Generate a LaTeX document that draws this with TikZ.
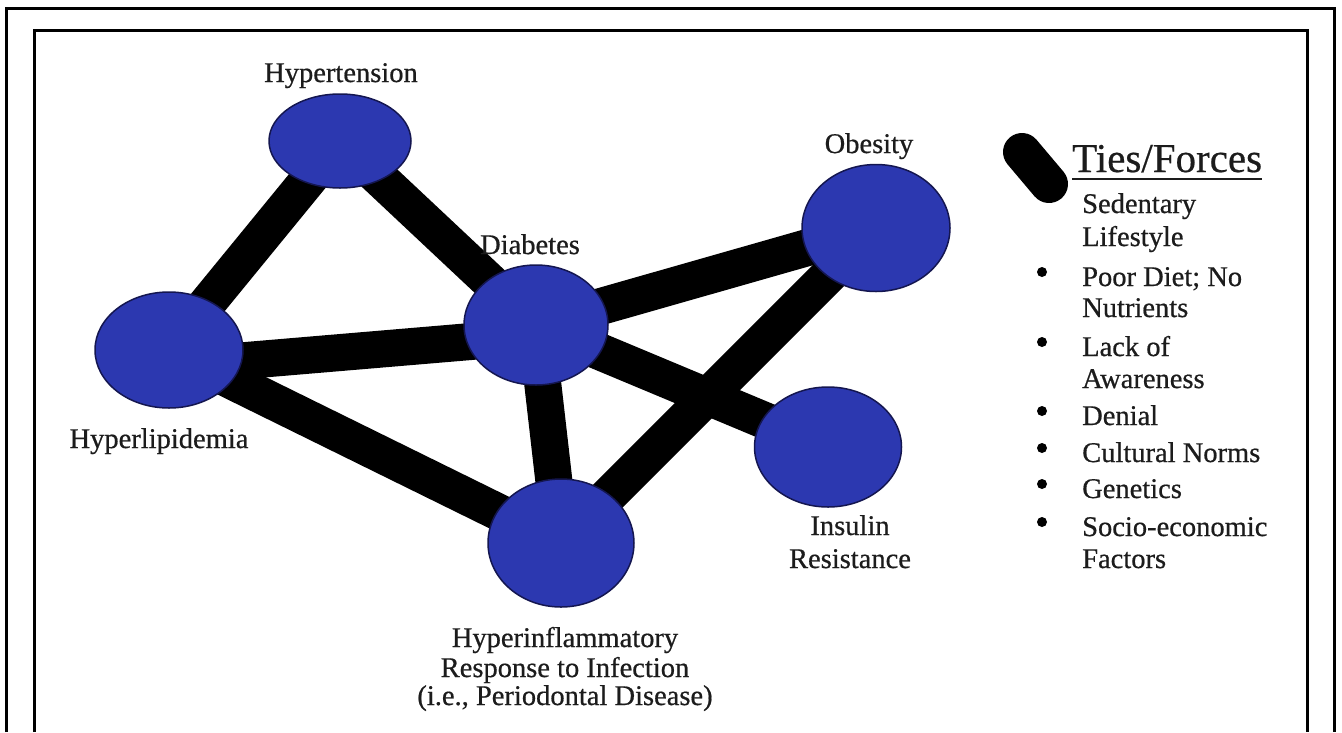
\documentclass[tikz,border=0pt]{standalone}
\usepackage{fontspec}
\setmainfont{Liberation Serif}[FakeBold=0.5]
\newfontfamily\labfont{Liberation Serif}[FakeBold=0.6]
\usetikzlibrary{shapes.geometric,backgrounds}
\definecolor{blobfill}{RGB}{44,56,176}
\definecolor{blobedge}{RGB}{20,22,80}
\definecolor{ink}{RGB}{28,28,28}
\tikzset{
  blob/.style={ellipse, fill=blobfill, draw=blobedge, line width=1.5pt, inner sep=0pt},
  tie/.style={line width=37pt, black},
  lab/.style={font=\labfont\fontsize{28.5}{30}\selectfont, text=ink, inner sep=0pt, anchor=base},
  leg/.style={font=\labfont\fontsize{28.5}{30}\selectfont, text=ink, inner sep=0pt, anchor=base west},
  bul/.style={circle, fill=black, inner sep=0pt, minimum size=10pt},
  frameline/.style={line width=3pt, black}
}
\begin{document}
\begin{tikzpicture}[x=1pt,y=-1pt]
\useasboundingbox (0,0) rectangle (1342,732);
% frames
\draw[frameline] (6,732) -- (6,8) -- (1334,8) -- (1334,732);
\draw[frameline] (34,732) -- (34,30) -- (1307,30) -- (1307,732);
% nodes (ellipses)
\node[blob, minimum width=142pt, minimum height=94pt] (ht) at (340,141) {};
\node[blob, minimum width=144pt, minimum height=120pt] (di) at (536,325) {};
\node[blob, minimum width=148pt, minimum height=116pt] (hl) at (169,350) {};
\node[blob, minimum width=148pt, minimum height=127pt] (ob) at (876,228) {};
\node[blob, minimum width=147pt, minimum height=120pt] (ir) at (828,447) {};
\node[blob, minimum width=146pt, minimum height=128pt] (hi) at (561,543) {};
% ties
\begin{pgfonlayer}{background}
\fill[white] (0,0) rectangle (1342,732);
\draw[tie] (hl.center) -- (ht.center);
\draw[tie] (ht.center) -- (di.center);
\draw[tie] ([yshift=-17pt]hl.center) -- ([yshift=-11pt]di.center);
\draw[tie] (hl.center) -- (hi.center);
\draw[tie] (di.center) -- (ob.center);
\draw[tie] (di.center) -- (ir.center);
\draw[tie] (di.center) -- (hi.center);
\draw[tie] (ob.center) -- (hi.center);
\end{pgfonlayer}
% labels
\node[lab] (htl) at (341,82) {Hypertension};
\node[lab] (dil) at (530,254) {Diabetes};
\node[lab] (obl) at (869,153) {Obesity};
\node[lab] (hll) at (159,448) {Hyperlipidemia};
\node[lab] (irl1) at (850,535) {Insulin};
\node[lab] (irl2) at (850,568) {Resistance};
\node[lab] (hil1) at (565,647) {Hyperinflammatory};
\node[lab] (hil2) at (565,677) {Response to Infection};
\node[lab] (hil3) at (565,705) {(i.e., Periodontal Disease)};
% legend
\coordinate (legA) at (1022,152);
\coordinate (legB) at (1049,184);
\draw[line width=38pt, line cap=round, black] (legA) -- (legB);
\node[font=\fontsize{41}{44}\selectfont, text=ink, inner sep=0pt, anchor=base west] (ties) at (1072,172) {Ties/Forces};
\draw[line width=2pt, ink] ([yshift=-7pt]ties.base west) -- ([yshift=-7pt]ties.base east);
\node[leg] (l1a) at (1082,213) {Sedentary};
\node[leg] (l1b) at (1082,246) {Lifestyle};
\node[leg] (l2a) at (1082,286) {Poor Diet; No};
\node[leg] (l2b) at (1082,317) {Nutrients};
\node[leg] (l3a) at (1082,356) {Lack of};
\node[leg] (l3b) at (1082,388) {Awareness};
\node[leg] (l4) at (1082,425) {Denial};
\node[leg] (l5) at (1082,462) {Cultural Norms};
\node[leg] (l6) at (1082,498) {Genetics};
\node[leg] (l7a) at (1082,536) {Socio-economic};
\node[leg] (l7b) at (1082,568) {Factors};
\node[bul] (b2) at (1042,272) {};
\node[bul] (b3) at (1042,342) {};
\node[bul] (b4) at (1042,411) {};
\node[bul] (b5) at (1042,448) {};
\node[bul] (b6) at (1042,484) {};
\node[bul] (b7) at (1042,522) {};
\end{tikzpicture}
\end{document}
